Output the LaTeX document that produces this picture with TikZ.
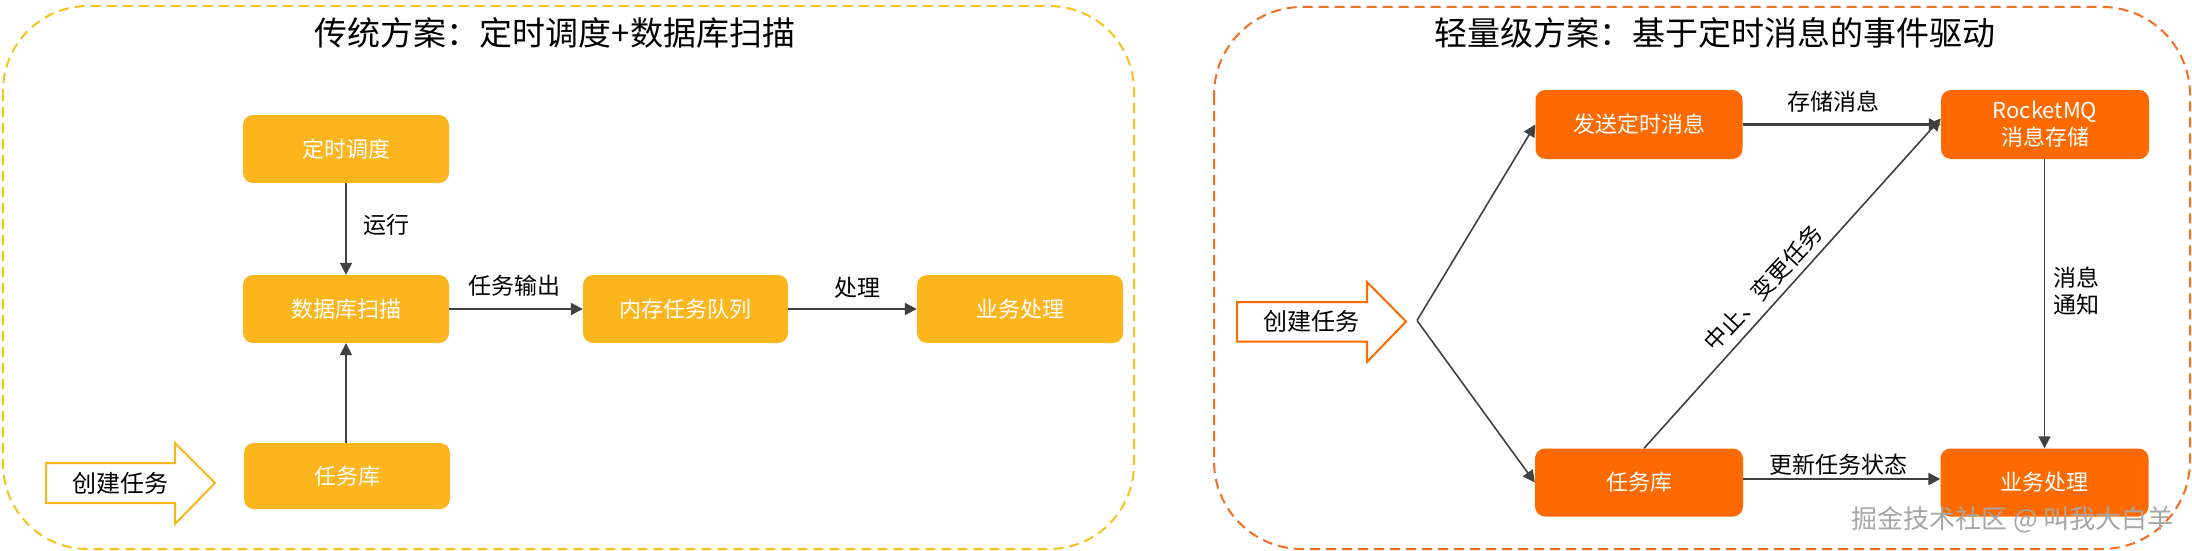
\documentclass[tikz,border=0pt]{standalone}
\usepackage{fontspec}
\setmainfont{Noto Sans CJK SC}
\usetikzlibrary{arrows.meta}
\definecolor{ybox}{HTML}{FDB51E}
\definecolor{ydash}{HTML}{F8C21C}
\definecolor{obox}{HTML}{FF6A00}
\definecolor{odash}{HTML}{F26E22}
\definecolor{lnk}{HTML}{404040}
\tikzset{
  box/.style={rectangle, rounded corners=10pt, inner sep=0pt, text=white, font=\fontsize{22}{27}\selectfont, align=center},
  ylbox/.style={box, fill=ybox},
  orbox/.style={box, fill=obox},
  lbl/.style={font=\fontsize{23}{27}\selectfont, text=black, inner sep=0pt},
  ttl/.style={font=\fontsize{33}{38}\selectfont, text=black, inner sep=0pt},
  link/.style={draw=lnk, line width=1.6pt, -{Triangle[length=12pt,width=12pt]}},
  hlink/.style={link, line width=2.2pt},
  frame/.style={line width=2pt, dash pattern=on 10pt off 6pt},
  blk/.style={line width=2pt, fill=white},
}
\begin{document}
\begin{tikzpicture}[x=1pt,y=-1pt]
\useasboundingbox (0,0) rectangle (2192,551);
% frames
\draw[frame, draw=ydash, rounded corners=85pt] (3,6) rectangle (1134,549);
\draw[frame, draw=odash, rounded corners=88pt] (1214,7) rectangle (2190,549);
% titles
\node[ttl] (t1) at (555,33) {传统方案：定时调度+数据库扫描};
\node[ttl] (t2) at (1715,33) {轻量级方案：基于定时消息的事件驱动};
% left boxes
\node[ylbox, minimum width=206pt, minimum height=68pt] (sched) at (346,149) {定时调度};
\node[ylbox, minimum width=206pt, minimum height=68pt] (scan) at (346,309) {数据库扫描};
\node[ylbox, minimum width=205pt, minimum height=68pt] (queue) at (685.5,309) {内存任务队列};
\node[ylbox, minimum width=206pt, minimum height=68pt] (bizL) at (1020,309) {业务处理};
\node[ylbox, minimum width=206pt, minimum height=66pt] (taskL) at (347,476) {任务库};
% left links
\draw[link] (sched) -- (scan);
\draw[link] (taskL.north -| scan) -- (scan);
\draw[hlink] (scan) -- (queue);
\draw[hlink] (queue) -- (bizL);
\node[lbl, anchor=west] (run) at (363,225) {运行};
\node[lbl] (out) at (514,286) {任务输出};
\node[lbl] (proc) at (857,288) {处理};
% left block arrow
\draw[blk, draw=ybox] (46,463) -- (175,463) -- (175,443) -- (215,483) -- (175,524) -- (175,503) -- (46,503) -- cycle;
\node[lbl, font=\fontsize{24}{28}\selectfont] (createL) at (120,483) {创建任务};
% right boxes
\node[orbox, minimum width=207pt, minimum height=69pt] (send) at (1639,124.5) {发送定时消息};
\node[orbox, minimum width=208pt, minimum height=69pt] (mq) at (2045,124.5) {RocketMQ\\消息存储};
\node[orbox, minimum width=208pt, minimum height=68pt] (taskR) at (1639,482.5) {任务库};
\node[orbox, minimum width=208pt, minimum height=68pt] (bizR) at (2044.5,482.5) {业务处理};
% right block arrow
\draw[blk, draw=obox] (1237,302) -- (1367,302) -- (1367,282) -- (1406,321.5) -- (1367,362) -- (1367,341.5) -- (1237,341.5) -- cycle;
\node[lbl, font=\fontsize{24}{28}\selectfont] (createR) at (1311.5,321.5) {创建任务};
\coordinate (fork) at (1417,320.5);
% right links
\draw[link] (fork) -- (send.west);
\draw[link] (fork) -- (taskR.west);
\draw[hlink] (send) -- (mq);
\draw[link] ([xshift=5pt]taskR.north) -- ([yshift=6pt]mq.west);
\draw[link] (mq.south -| bizR) -- (bizR);
\draw[hlink] ([yshift=3.5pt]taskR.east) -- ([yshift=3.5pt]bizR.west);
\node[lbl] (store) at (1833,102) {存储消息};
\node[lbl, rotate=47] (abort) at (1763,288) {中止、变更任务};
\node[lbl, anchor=west, align=left, font=\fontsize{23}{27}\selectfont] (notify) at (2053,291) {消息\\通知};
\node[lbl] (upd) at (1838,465) {更新任务状态};
% watermark
\node[inner sep=0pt, anchor=east, text=black!35, font=\fontsize{26}{30}\selectfont] (wm) at (2174,520) {掘金技术社区 @ 叫我大白羊};
\end{tikzpicture}
\end{document}
